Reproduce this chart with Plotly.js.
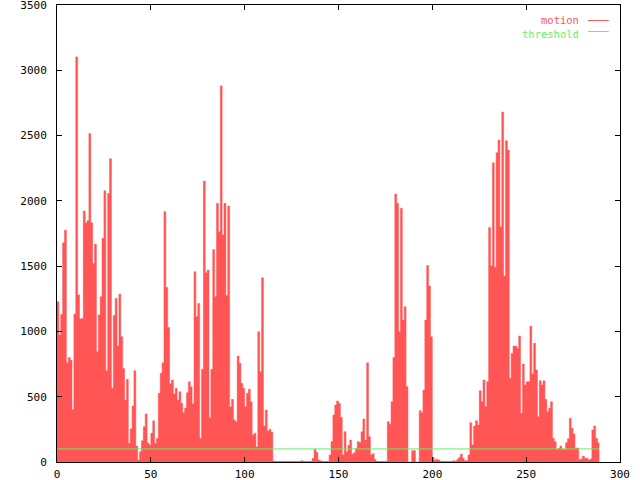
<!DOCTYPE html>
<html>
<head>
<meta charset="utf-8">
<script src="https://cdn.plot.ly/plotly-3.0.1.min.js"></script>
<style>html,body{margin:0;padding:0;background:#fff;}#chart{width:640px;height:480px;}</style>
</head>
<body>
<div id="chart"></div>
<script>
// motion value per time step (x = 0, 1, 2, ...)
const motion = [
1227,972,1130,1679,1776,760,800,780,400,1133,
3103,1280,1095,1100,1922,1830,1848,2517,1832,1521,
1669,845,1126,1266,1713,2077,699,2057,2323,564,
1123,1253,888,1286,960,717,475,633,143,253,
429,699,122,15,79,163,270,368,145,130,
220,316,143,180,526,679,760,1917,1337,1031,
600,628,520,564,475,538,450,378,413,531,
615,577,444,1457,1113,1215,181,710,2152,1450,
1470,339,710,1628,1266,1981,1763,2881,1738,1981,
1276,1960,424,480,322,309,812,756,603,564,
424,526,557,462,207,220,115,998,692,1411,
276,398,237,250,230,8,5,5,5,5,
5,5,5,5,5,5,5,5,5,5,
10,5,5,5,5,5,28,97,74,15,
10,5,5,5,5,54,156,360,436,467,
449,342,54,232,79,128,168,60,70,105,
156,150,232,329,168,760,194,54,64,20,
5,5,5,5,5,5,309,290,462,800,
2052,1981,998,1943,1087,1189,577,0,0,87,
87,0,0,393,378,551,1087,1506,1348,959,
36,15,20,15,5,5,5,5,5,5,
5,10,5,20,35,61,28,10,10,54,
301,130,276,316,283,546,462,628,424,615,
1797,1501,2292,1491,2368,2466,1802,2680,1424,2460,
2389,641,832,888,888,871,965,373,750,590,
615,615,1041,674,909,704,347,622,590,622,
480,385,411,462,181,156,97,105,122,97,
97,148,178,335,258,214,107,107,20,23,
46,28,28,15,23,245,276,181,148
];
const thresholdLevel = [100];
const xTicks = [0, 50, 100, 150, 200, 250, 300];
const yTicks = [0, 500, 1000, 1500, 2000, 2500, 3000, 3500];
const seriesNames = ["motion", "threshold"];

const RED = "#ff5555";
const GREEN = "#66ee66";
const FONT = "DejaVu Sans Mono";

// step x positions from the index; repeat last value to close the final step
const xs = motion.map((_, i) => i).concat([motion.length]);
const ys = motion.concat([motion[motion.length - 1]]);
const thr = xs.map(() => thresholdLevel[0]);

const traces = [
  {
    x: xs, y: ys, type: "scatter", mode: "lines",
    line: {shape: "hv", color: RED, width: 0.5},
    fill: "tozeroy", fillcolor: RED,
    name: seriesNames[0], showlegend: false, hoverinfo: "skip"
  },
  {
    x: xs, y: thr, type: "scatter", mode: "lines",
    line: {color: GREEN, width: 1},
    name: seriesNames[1], showlegend: false, hoverinfo: "skip"
  }
];

const axisCommon = {
  showline: true, linecolor: "#000", linewidth: 1, mirror: "ticks",
  ticks: "inside", ticklen: 5, tickcolor: "#000", tickwidth: 1,
  showgrid: false, zeroline: false,
  tickfont: {family: FONT, size: 11, color: "#000"},
  ticklabeloverflow: "allow"
};

const layout = {
  width: 640, height: 480,
  margin: {l: 57, r: 20, t: 5, b: 18, pad: 0},
  paper_bgcolor: "#fff", plot_bgcolor: "#fff",
  showlegend: false,
  xaxis: Object.assign({}, axisCommon, {
    range: [0, 300], tickmode: "array", tickvals: xTicks,
    ticktext: xTicks.map(String), ticklabelstandoff: 2
  }),
  yaxis: Object.assign({}, axisCommon, {
    range: [0, 3500.5], tickmode: "array", tickvals: yTicks,
    ticktext: yTicks.map(String), ticklabelstandoff: 7
  }),
  annotations: [
    {text: seriesNames[0], xref: "paper", yref: "paper", x: 0.929, y: 0.968,
     xanchor: "right", yanchor: "middle", showarrow: false, borderpad: 0,
     font: {family: FONT, size: 10.5, color: RED}},
    {text: seriesNames[1], xref: "paper", yref: "paper", x: 0.929, y: 0.937,
     xanchor: "right", yanchor: "middle", showarrow: false, borderpad: 0,
     font: {family: FONT, size: 10.5, color: GREEN}}
  ],
  shapes: [
    {type: "line", xref: "paper", yref: "paper", x0: 0.943, x1: 0.980, y0: 0.966, y1: 0.966,
     line: {color: RED, width: 1}},
    {type: "line", xref: "paper", yref: "paper", x0: 0.943, x1: 0.980, y0: 0.942, y1: 0.942,
     line: {color: GREEN, width: 1}}
  ]
};

Plotly.newPlot("chart", traces, layout, {staticPlot: true, displayModeBar: false});
</script>
</body>
</html>
